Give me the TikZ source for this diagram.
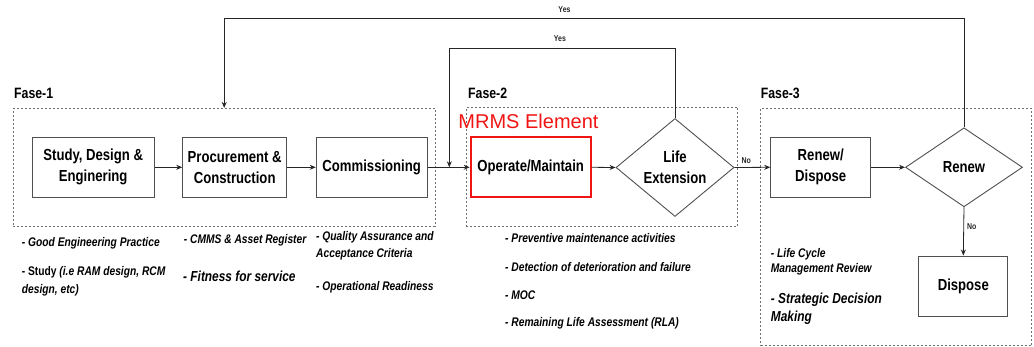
\documentclass[tikz,border=0pt]{standalone}
\usepackage{fontspec}
\setmainfont{Liberation Sans}[FakeStretch=0.82]
\newfontfamily\plainarial{Liberation Sans}
\usetikzlibrary{arrows.meta,shapes.geometric}
\definecolor{boxgray}{RGB}{80,80,80}
\definecolor{phasegray}{RGB}{110,110,110}
\definecolor{mrmsred}{RGB}{240,20,20}

\begin{document}
\begin{tikzpicture}[x=1pt,y=-1pt,
  >={Stealth[length=6pt,width=5pt]},
  box/.style={draw=boxgray,line width=0.9pt,fill=white,inner sep=0pt,align=center,font=\fontsize{16}{21}\selectfont\bfseries,minimum height=60pt},
  mrms/.style={box,draw=mrmsred,line width=2pt},
  decision/.style={diamond,draw=boxgray,line width=0.9pt,fill=white,inner sep=0pt,align=center,font=\fontsize{16}{21}\selectfont\bfseries},
  phase/.style={draw=phasegray,line width=0.8pt,dash pattern=on 2pt off 2pt,inner sep=0pt},
  phaselab/.style={anchor=west,inner sep=0pt,font=\fontsize{15}{18}\selectfont\bfseries},
  note/.style={anchor=west,inner sep=0pt,align=left,font=\fontsize{12.5}{16.7}\selectfont\bfseries\itshape},
  bignote/.style={note,font=\fontsize{14.5}{18}\selectfont\bfseries\itshape},
  ar/.style={->,line width=0.8pt,black!85},
  yn/.style={font=\fontsize{8.5}{10}\selectfont\bfseries,inner sep=1pt}
]
\useasboundingbox (0,0) rectangle (1034,347);

% PHASE FRAMES
\node[phase,minimum width=421.7pt,minimum height=118.2pt] (fase1) at (224.2,167.4) {};
\node[phase,minimum width=271.7pt,minimum height=119.2pt] (fase2) at (601.9,167.1) {};
\node[phase,minimum width=270.8pt,minimum height=237.8pt] (fase3) at (896.1,226.9) {};

\node[phaselab] (lab1) at (14,93.3)   {Fase-1};
\node[phaselab] (lab2) at (468,93.3)  {Fase-2};
\node[phaselab] (lab3) at (760.6,93.3) {Fase-3};

% MAIN ROW
\node[box,minimum width=122pt] (study) at (93.2,167.3) {Study, Design \&\\Enginering};
\node[box,minimum width=104pt] (procure) at (234.7,167.3) {Procurement \&\\Construction};
\node[box,minimum width=111pt] (commis) at (371.7,167.3) {Commissioning};
\node[mrms,minimum width=120pt] (operate) at (530.7,167.3) {Operate/Maintain};
\node[decision,minimum width=118pt,minimum height=98pt] (lifeext) at (675,167.5) {Life\\Extension};
\node[box,minimum width=100pt] (renewdisp) at (820.7,167.3) {Renew/\\Dispose};
\node[decision,minimum width=117pt,minimum height=79pt] (renew) at (964,167.3) {Renew};
\node[box,minimum width=89pt] (dispose) at (963.3,286) {Dispose};

\node[font=\plainarial\fontsize{20}{24}\selectfont,text=mrmsred,inner sep=0pt] (mrmslab) at (528.5,121.7) {MRMS Element};

\draw[ar] (study.east) -- (procure.west);
\draw[ar] (procure.east) -- (commis.west);
\draw[ar] (commis.east) -- (operate.west);
\draw[ar] (operate.east) -- (lifeext.west);
\draw[ar] (lifeext.east) -- node[yn,above=2pt,pos=0.33] {No} (renewdisp.west);
\draw[ar] (renewdisp.east) -- (renew.west);
\draw[ar] (renew.south) -- node[yn,right=2pt,pos=0.4] {No} (dispose.north);

% FEEDBACK LOOPS
\coordinate (yestop) at (0,18.7);
\coordinate (yesmid) at (0,48.3);
\coordinate (merge) at (449.3,167.3);
\draw[ar] (renew.north) -- (renew.north |- yestop) -| node[yn,above=5pt,pos=0.27] {Yes} (fase1.north);
\draw[ar] (lifeext.north) -- (lifeext.north |- yesmid) -| node[yn,above=5pt,pos=0.255] {Yes} (merge);

% NOTES
\node[note] (n1a) at (21.7,243.3) {- Good Engineering Practice};
\node[note] (n1b) at (21.7,281) {{\upshape - Study} (i.e RAM design, RCM\\[1.6pt]design, etc)};
\node[note] (n2a) at (183.7,240.7) {- CMMS \& Asset Register};
\node[bignote] (n2b) at (183,276.7) {- Fitness for service};
\node[note] (n3a) at (316,245.6) {- Quality Assurance and\\Acceptance Criteria};
\node[note] (n3b) at (316,287.3) {- Operational Readiness};

\node[note] (n4a) at (505,238.3) {- Preventive maintenance activities};
\node[note] (n4b) at (505,266.7) {- Detection of deterioration and failure};
\node[note] (n4c) at (505,295)   {- MOC};
\node[note] (n4d) at (505,323.3) {- Remaining Life Assessment (RLA)};

\node[note,font=\fontsize{12.5}{15}\selectfont\bfseries\itshape] (n5a) at (770.7,261.5) {- Life Cycle\\Management Review};
\node[bignote] (n5b) at (770.7,309) {- Strategic Decision\\Making};

\end{tikzpicture}
\end{document}
